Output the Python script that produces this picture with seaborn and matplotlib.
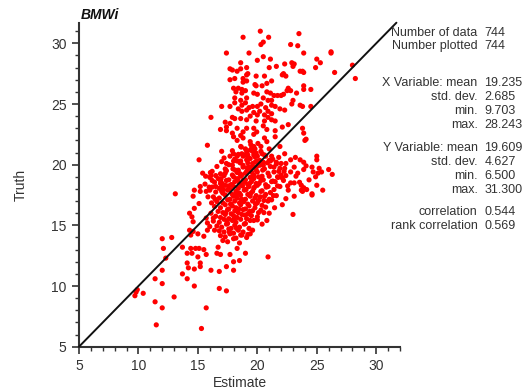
import numpy as np
import pandas as pd
import matplotlib
matplotlib.use("Agg")
import matplotlib.pyplot as plt
import seaborn as sns
from matplotlib.ticker import MultipleLocator

# ---------------- data ----------------
top_pts = [
    (20.25,31.0),(18.8,30.5),(20.95,30.5),(23.5,30.8),(20.5,30.1),(20.3,29.9),(23.4,29.8),(22.8,29.9),
    (17.4,29.2),(19.3,29.2),(23.9,29.2),(26.2,29.3),(26.2,29.2),(20.5,28.9),(20.0,28.6),(21.1,28.7),
    (18.6,28.4),(25.0,28.7),(25.3,28.4),(24.9,28.0),(28.0,28.2),(28.243,27.1),(26.5,27.6),(22.9,28.4),
    (23.1,28.3),(22.3,28.3),(23.0,28.1),(21.6,28.1),(21.0,28.0),(17.7,27.9),(17.9,27.8),(18.3,27.7),
    (18.6,27.9),(19.1,28.0),(23.6,27.7),(23.9,27.6),(23.8,27.7),(22.2,27.5),(22.4,27.3),(22.1,27.4),
    (19.1,27.4),(18.8,27.1),(19.2,27.5),(19.9,27.3),(20.6,27.3),(18.1,27.1),(17.7,27.0),(18.8,26.8),
    (19.1,26.9),(19.8,26.6),(19.9,26.5),(20.4,26.5),(20.8,26.7),(21.2,26.9),(22.6,26.3),(22.5,26.1),
    (23.3,25.9),(23.9,26.5),(24.5,26.2),(23.9,26.2),(18.0,26.3),(18.4,26.3),(18.7,26.2),(19.0,26.1),
    (18.2,26.0),(18.7,25.9),(19.7,25.9),(20.0,25.8),(20.8,26.0),(21.1,25.9),(21.4,25.7),(21.7,25.7),
    (22.0,25.7),(22.2,25.8),(22.8,26.1),(18.1,25.5),(18.6,25.3),(19.1,25.5),(20.5,25.5),(20.9,25.3),
    (21.2,25.3),(22.9,25.0),(23.0,25.3),
]
upper_pts = [
    (17.0,24.8),(17.7,24.8),(18.1,25.1),(18.7,24.9),(19.0,25.1),(19.3,24.7),(19.6,24.8),(20.0,24.8),
    (20.3,25.0),(20.7,24.7),(21.2,24.9),(21.5,24.8),(22.3,24.5),(23.6,24.9),(23.8,24.8),(24.5,24.8),
    (18.4,24.6),(18.7,24.4),(19.1,24.5),(19.7,24.3),(20.2,24.4),(20.9,24.4),(21.2,24.2),(21.9,24.6),
    (20.9,23.9),(20.6,24.1),(20.0,24.1),(19.4,24.0),(16.1,23.9),(17.9,23.9),(17.3,23.5),(17.7,23.4),
    (18.1,23.8),(18.6,23.8),(19.1,23.7),(19.9,23.6),(20.6,23.6),(21.2,23.7),(21.5,23.6),(22.6,23.3),
    (22.1,23.1),(17.4,23.1),(16.9,22.9),(17.4,22.8),(18.3,23.0),(19.1,23.0),(19.7,23.0),(20.5,23.2),
    (20.8,22.9),(21.5,22.8),(23.8,23.0),(23.9,22.6),(17.9,22.6),(18.6,22.4),(19.7,22.5),(18.8,22.7),
    (19.95,22.7),
]
mid_pts = [
    (15.8,21.6),(17.0,21.1),(18.0,22.3),(18.3,22.0),(18.8,22.2),(19.4,21.9),(20.6,22.2),(20.8,21.9),
    (21.5,22.3),(24.0,22.0),(24.1,22.1),(21.9,21.5),(21.0,21.3),(20.3,21.5),(19.8,21.3),(19.6,21.1),
    (19.0,21.3),(18.6,21.5),(18.0,20.9),(17.7,20.7),(18.3,20.7),(18.7,20.9),(19.2,20.8),(19.7,20.8),
    (20.0,20.7),(20.4,20.9),(20.7,20.7),(21.2,20.7),(21.8,20.6),(22.3,20.9),(22.8,20.4),(23.2,20.6),
    (23.6,20.4),(23.9,20.2),(25.0,20.7),(25.0,20.4),(15.1,20.4),(17.4,20.1),(18.0,20.3),(18.6,20.3),
    (19.1,20.4),(19.6,20.1),(20.0,20.3),(20.5,20.2),(21.1,20.3),(21.6,20.2),(22.0,20.1),(22.4,20.1),
    (19.4,21.2),(19.7,21.5),(18.8,20.7),(19.3,19.8),
]
side_pts = [
    (15.4,19.3),(16.1,19.1),(16.5,19.1),(16.9,18.7),(17.3,19.3),(16.2,18.7),(15.6,18.4),(15.2,17.8),
    (14.7,17.9),(14.6,17.4),(15.7,17.8),(16.0,17.9),(17.0,17.8),(13.1,17.6),(15.2,18.2),(16.5,18.2),
    (17.0,18.2),
    (23.1,19.8),(24.1,19.9),(23.4,19.3),(23.9,19.6),(24.6,19.8),(25.2,19.7),(24.7,19.4),(25.4,19.4),
    (26.0,19.6),(26.3,19.2),(25.1,19.3),(24.9,19.0),(22.8,19.4),(22.4,19.1),(22.2,18.7),(22.8,18.5),
    (23.1,18.5),(23.7,18.3),(23.9,18.1),(23.7,17.9),(25.0,18.3),(25.5,17.9),(24.6,17.6),(24.6,17.5),
    (23.8,17.8),(23.1,17.4),(22.4,17.2),(22.6,17.9),(21.9,18.2),(21.7,19.0),(21.5,18.6),(21.4,19.8),
    (21.9,19.7),(22.3,19.7),(22.1,16.7),(23.0,15.9),
]
low_pts = [
    (15.1,16.8),(14.7,16.4),(14.3,16.0),(14.5,15.7),(14.6,15.3),(16.1,16.0),(15.7,15.6),(16.3,15.6),
    (15.8,15.2),(16.0,14.9),(16.4,14.6),(15.8,14.6),(14.3,14.6),(14.6,14.5),(14.4,14.2),(15.0,14.3),
    (15.5,14.1),(12.0,13.9),(12.8,14.0),(13.7,13.2),(14.4,13.1),(14.8,13.1),(15.1,13.1),(15.5,13.0),
    (14.1,12.7),(14.5,12.7),(15.0,12.4),(15.7,12.6),(16.7,13.2),(16.6,12.7),(16.9,12.6),(17.7,12.6),
    (18.3,13.1),(19.0,12.7),(18.5,12.1),(18.0,12.0),(18.0,11.3),(17.4,11.6),(16.8,11.2),(16.1,11.3),
    (15.2,11.9),(15.2,11.6),(14.1,11.9),(14.2,11.5),(14.7,11.4),(13.7,11.0),(14.1,10.6),(12.1,13.1),
    (12.3,12.3),(12.0,11.3),(11.4,10.6),(12.0,10.2),(14.7,10.0),(16.8,9.8),(17.4,9.6),(9.9,9.7),
    (9.8,9.5),(9.703,9.2),(10.4,9.4),(13.0,9.1),(11.4,8.7),(12.0,8.2),(15.7,8.2),(11.5,6.8),
    (15.3,6.5),(20.9,12.4),(18.6,14.2),(19.1,14.0),(19.4,14.3),(19.6,14.6),(20.4,15.1),(20.8,15.4),
    (21.0,16.0),(20.7,16.5),(21.2,17.1),(19.7,15.4),(20.0,15.7),
]
core_pts = [
    (17.9,21.15),(18.4,20.85),(19.1,21.05),(19.5,21.3),(19.9,20.95),(20.3,21.1),
    (17.2,20.55),(18.1,20.45),(18.9,20.75),(19.4,20.5),(19.8,20.65),(20.2,20.35),(20.6,20.8),(21.3,20.45),
    (17.0,20.25),(17.6,20.0),(18.3,20.3),(18.8,19.95),(19.2,20.15),(19.6,19.85),(20.1,20.25),(20.5,19.95),
    (21.0,20.35),(21.6,20.05),
    (16.6,19.85),(17.3,19.65),(17.9,19.95),(18.4,19.55),(18.8,19.8),(19.1,19.45),(19.5,19.7),(19.9,19.55),
    (20.2,19.95),(20.6,19.65),(21.1,19.85),(21.8,19.45),
    (16.2,19.45),(16.9,19.25),(17.4,19.5),(17.9,19.15),(18.3,19.35),(18.6,19.05),(19.0,19.3),(19.3,19.55),
    (19.7,19.15),(20.0,19.4),(20.4,19.05),(20.9,19.3),(21.4,19.4),(22.0,19.15),
    (16.0,18.95),(16.7,18.85),(17.2,19.1),(17.6,18.75),(18.0,19.0),(18.3,18.85),(18.7,19.15),(19.0,18.75),
    (19.4,18.95),(19.7,18.85),(20.1,19.0),(20.5,18.75),(21.0,19.05),(21.3,18.65),(22.1,18.9),
    (16.4,18.55),(16.9,18.45),(17.4,18.7),(17.8,18.35),(18.1,18.6),(18.5,18.45),(18.8,18.7),(19.2,18.35),
    (19.5,18.6),(19.9,18.45),(20.3,18.7),(20.7,18.35),(21.2,18.6),(21.7,18.25),
    (16.2,18.15),(16.8,18.05),(17.3,18.3),(17.7,17.95),(18.0,18.2),(18.4,18.05),(18.7,18.3),(19.0,17.95),
    (19.3,18.2),(19.7,18.05),(20.0,18.3),(20.4,17.85),(20.9,18.2),(21.4,17.95),
    (16.5,17.75),(17.1,17.65),(17.5,17.9),(17.9,17.55),(18.2,17.8),(18.5,17.65),(18.9,17.9),(19.2,17.55),
    (19.6,17.8),(19.9,17.45),(20.3,17.8),(20.7,17.55),(21.1,17.7),(21.6,17.45),
    (16.3,17.35),(16.8,17.25),(17.3,17.5),(17.7,17.15),(18.0,17.4),(18.3,17.25),(18.6,17.5),(19.0,17.15),
    (19.4,17.4),(19.8,17.25),(20.1,17.05),(20.6,17.4),(21.0,17.15),
    (16.6,16.95),(17.1,16.85),(17.5,17.1),(17.8,16.75),(18.1,17.0),(18.5,16.85),(18.8,17.1),(19.2,16.75),
    (19.6,17.0),(20.0,16.85),(20.4,16.65),(20.9,17.0),
    (16.4,16.55),(16.9,16.45),(17.3,16.7),(17.6,16.35),(17.9,16.6),(18.2,16.45),(18.6,16.7),(19.0,16.35),
    (19.3,16.6),(19.8,16.45),(20.3,16.25),
    (16.7,16.15),(17.1,16.05),(17.5,16.3),(17.8,15.95),(18.1,16.2),(18.4,16.05),(18.8,16.3),(19.2,15.95),
    (19.6,16.2),(20.1,16.05),
    (16.5,15.75),(16.9,15.65),(17.3,15.9),(17.6,15.55),(18.0,15.8),(18.3,15.65),(18.7,15.9),(19.1,15.55),
    (19.5,15.8),(20.0,15.45),
    (16.3,15.35),(16.8,15.25),(17.2,15.5),(17.5,15.15),(17.9,15.4),(18.2,15.25),(18.6,15.5),(19.0,15.15),
    (19.4,15.4),
    (16.6,14.95),(17.0,14.85),(17.4,15.1),(17.8,14.75),(18.1,15.0),(18.5,14.85),(18.9,15.1),(19.3,14.75),
    (16.8,14.55),(17.2,14.45),(17.6,14.7),(18.0,14.35),(18.4,14.6),(18.8,14.45),(19.2,14.25),
    (16.9,14.15),(17.3,14.05),(17.7,14.3),(18.2,13.95),(18.7,14.2),
    (17.1,13.75),(17.5,13.65),(18.0,13.9),(18.5,13.55),
    (18.15,19.55),(18.55,19.25),(19.15,19.75),(19.55,19.35),(18.75,18.25),(19.35,18.45),(18.25,17.55),
    (18.65,17.15),(19.45,17.65),(19.05,17.95),(17.85,18.35),(17.55,18.25),(18.95,18.55),(19.75,18.15),
    (20.15,18.45),(20.45,19.55),(19.85,20.25),(19.25,20.55),(18.55,20.15),(17.95,19.65),(18.85,16.95),
    (18.45,16.35),(17.75,16.75),(17.35,16.05),(18.05,15.55),(18.95,15.85),(19.85,16.75),(20.25,17.35),
    (17.15,17.95),(16.95,18.85),(18.35,18.75),(19.65,19.05),(20.75,18.15),(20.55,17.05),(19.35,16.15),
    (17.45,15.35),(17.65,14.45),(18.25,14.75),(19.95,19.85),(20.85,20.15),(18.65,21.45),(19.45,21.65),
    (20.05,21.75),(17.05,18.45),(16.45,17.15),(16.15,16.85),(15.85,17.35),(15.95,18.15),(16.05,19.35),
    (15.65,19.05),(20.55,16.05),(21.35,17.45),(21.45,16.45),(21.75,18.95),(22.25,19.45),(22.55,18.25),
    (23.25,19.05),(24.35,18.75),(24.15,17.95),(23.55,18.55),
]

stat_labels = ["Number of data", "Number plotted", None,
               "X Variable: mean", "std. dev.", "min.", "max.", None,
               "Y Variable: mean", "std. dev.", "min.", "max.", None,
               "correlation", "rank correlation"]
stat_values = ["744", "744", None,
               "19.235", "2.685", "9.703", "28.243", None,
               "19.609", "4.627", "6.500", "31.300", None,
               "0.544", "0.569"]

all_pts = top_pts + upper_pts + mid_pts + side_pts + low_pts + core_pts
df = pd.DataFrame(all_pts, columns=["Estimate", "Truth"])

# ---------------- plot ----------------
sns.set_style("ticks")
plt.rcParams["font.family"] = ["Liberation Sans", "DejaVu Sans"]

fig = plt.figure(figsize=(5.30, 3.92), dpi=100)
ax = fig.add_axes([79/530, 1-346.7/392, (400-79)/530, (346.7-22.7)/392])

sns.scatterplot(data=df, x="Estimate", y="Truth", ax=ax, color="#ff0000",
                s=14, linewidth=0, edgecolor="none", zorder=2)
ax.plot([5, 31.7], [5, 31.7], color="#111111", lw=1.4, zorder=3, clip_on=False)

ax.set_xlim(5, 32)
ax.set_ylim(5, 31.7)
ax.xaxis.set_major_locator(MultipleLocator(5))
ax.xaxis.set_minor_locator(MultipleLocator(1))
ax.yaxis.set_major_locator(MultipleLocator(5))
ax.yaxis.set_minor_locator(MultipleLocator(1))
ax.tick_params(which="major", length=5, width=1.2, labelsize=10, colors="#333333", pad=4)
ax.tick_params(which="minor", length=3, width=1.0, colors="#333333")
for side in ["top", "right"]:
    ax.spines[side].set_visible(False)
for side in ["left", "bottom"]:
    ax.spines[side].set_linewidth(1.5)
    ax.spines[side].set_color("#333333")
ax.set_xlabel("Estimate", fontsize=10, color="#333333", labelpad=2)
ax.set_ylabel("Truth", fontsize=10, color="#333333", labelpad=17)

fig.text(81/530, 1-15/392, "BMWi", fontsize=10, fontweight="bold", fontstyle="italic",
         ha="left", va="center", color="#111111")

row_y = [32.7, 46.0, None, 82.7, 96.7, 110.7, 125.0, None,
         147.7, 161.7, 175.7, 190.0, None, 212.0, 226.0]
for lab, val, yy in zip(stat_labels, stat_values, row_y):
    if lab is None:
        continue
    fig.text(477.7/530, 1-yy/392, lab, ha="right", va="center", fontsize=9, color="#333333")
    fig.text(484.3/530, 1-yy/392, val, ha="left", va="center", fontsize=9, color="#333333")

fig.savefig("out.png", dpi=100)
